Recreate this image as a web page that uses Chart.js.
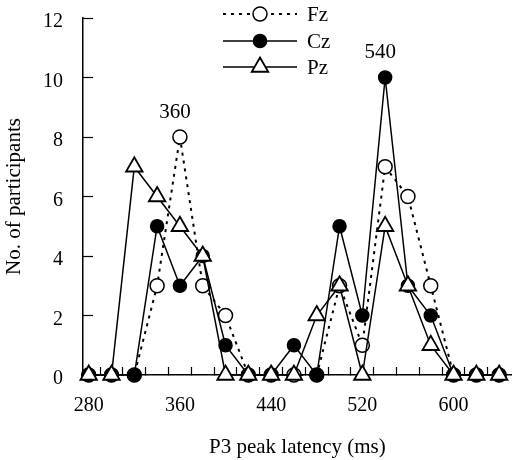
<!DOCTYPE html>
<html>
<head>
<meta charset="utf-8">
<script src="https://cdn.jsdelivr.net/npm/chart.js@4.4.0/dist/chart.umd.min.js"></script>
<style>
  body { margin: 0; background: #fff; }
</style>
</head>
<body>
<canvas id="latencyChart" width="523" height="460"></canvas>
<script>
// P3 peak latency bins (ms) and participant counts per electrode
const latencies = [280, 300, 320, 340, 360, 380, 400, 420, 440, 460, 480, 500, 520, 540, 560, 580, 600, 620, 640];
const fz = [0, 0, 0, 3, 8, 3, 2, 0, 0, 0, 0, 3, 1, 7, 6, 3, 0, 0, 0];
const cz = [0, 0, 0, 5, 3, 4, 1, 0, 0, 1, 0, 5, 2, 10, 3, 2, 0, 0, 0];
const pz = [0, 0, 7, 6, 5, 4, 0, 0, 0, 0, 2, 3, 0, 5, 3, 1, 0, 0, 0];

const xLabels = [280, 360, 440, 520, 600];
const xMarks = [290, 310, 330, 350, 370, 390, 410, 430, 450, 470, 490, 510, 530, 550, 570, 590, 610, 630];
const yTicks = [0, 2, 4, 6, 8, 10, 12];

const peakText = ["360", "540"];
const peakX = [360, 540];
const peakY = [8, 10];

const serif = "'Liberation Serif', 'Times New Roman', serif";
Chart.defaults.font.family = serif;
Chart.defaults.color = "#000";

const toPoints = (vals) => latencies.map((v, i) => ({ x: v, y: vals[i] }));

const peakNotes = {
  id: "peakNotes",
  afterDatasetsDraw(chart) {
    const { ctx, scales: { x, y } } = chart;
    ctx.save();
    ctx.font = "21px " + serif;
    ctx.fillStyle = "#000";
    ctx.textAlign = "center";
    ctx.textBaseline = "middle";
    peakText.forEach((t, i) => {
      ctx.fillText(t, x.getPixelForValue(peakX[i]) - 5, y.getPixelForValue(peakY[i]) - 25);
    });
    ctx.restore();
  }
};

// legend drawn by hand: dashed/solid sample line with marker in the middle
const sampleLegend = {
  id: "sampleLegend",
  afterDraw(chart) {
    const ctx = chart.ctx;
    const rows = [14, 41, 67];
    chart.data.datasets.forEach((ds, i) => {
      const yy = rows[i];
      ctx.save();
      ctx.strokeStyle = "#000";
      ctx.lineWidth = ds.borderWidth;
      ctx.setLineDash(ds.borderDash || []);
      ctx.beginPath();
      ctx.moveTo(223, yy);
      ctx.lineTo(297, yy);
      ctx.stroke();
      ctx.setLineDash([]);
      ctx.lineWidth = ds.pointBorderWidth;
      ctx.fillStyle = ds.pointBackgroundColor;
      ctx.beginPath();
      if (ds.pointStyle === "triangle") {
        const r = ds.pointRadius;
        ctx.moveTo(260, yy - r);
        ctx.lineTo(260 + r * 0.866, yy + r / 2);
        ctx.lineTo(260 - r * 0.866, yy + r / 2);
        ctx.closePath();
      } else {
        ctx.arc(260, yy, ds.pointRadius, 0, Math.PI * 2);
      }
      ctx.fill();
      ctx.stroke();
      ctx.font = "21px " + serif;
      ctx.fillStyle = "#000";
      ctx.textAlign = "left";
      ctx.textBaseline = "middle";
      ctx.fillText(ds.label, 307, yy + 1);
      ctx.restore();
    });
  }
};

const ctx = document.getElementById("latencyChart").getContext("2d");
new Chart(ctx, {
  type: "line",
  data: {
    datasets: [
      {
        label: "Fz",
        data: toPoints(fz),
        borderColor: "#000",
        borderWidth: 2,
        borderDash: [3, 5],
        pointStyle: "circle",
        pointRadius: 7,
        pointBackgroundColor: "#fff",
        pointBorderColor: "#000",
        pointBorderWidth: 1.5,
        clip: false,
        order: 3
      },
      {
        label: "Cz",
        data: toPoints(cz),
        borderColor: "#000",
        borderWidth: 1.5,
        pointStyle: "circle",
        pointRadius: 6.5,
        pointBackgroundColor: "#000",
        pointBorderColor: "#000",
        pointBorderWidth: 1.5,
        clip: false,
        order: 2
      },
      {
        label: "Pz",
        data: toPoints(pz),
        borderColor: "#000",
        borderWidth: 1.5,
        pointStyle: "triangle",
        pointRadius: 9.5,
        pointBackgroundColor: "#fff",
        pointBorderColor: "#000",
        pointBorderWidth: 1.8,
        clip: false,
        order: 1
      }
    ]
  },
  options: {
    responsive: false,
    animation: false,
    devicePixelRatio: 1,
    layout: { padding: { top: 18, right: 2, left: 0, bottom: 0 } },
    plugins: { legend: { display: false }, tooltip: { enabled: false } },
    scales: {
      x: {
        type: "linear",
        min: 275,
        max: 651,
        afterBuildTicks: (s) => {
          s.ticks = xLabels.concat(xMarks).sort((a, b) => a - b).map(v => ({ value: v }));
        },
        afterFit: (s) => {
          s.height = 85;
          s.paddingLeft = 0;
          s.paddingRight = 0;
        },
        ticks: {
          padding: 27,
          font: { size: 20 },
          maxRotation: 0,
          autoSkip: false,
          callback: (v) => xLabels.includes(v) ? String(v) : ""
        },
        grid: {
          drawOnChartArea: false,
          drawTicks: true,
          tickLength: -8,
          tickWidth: 1.2,
          tickColor: (c) => (c.tick && xMarks.includes(c.tick.value)) ? "#000" : "rgba(0,0,0,0)"
        },
        border: { display: true, color: "#000", width: 1.5 },
        title: {
          display: true,
          text: "P3 peak latency (ms)",
          font: { size: 21 },
          padding: { top: 0, bottom: 0 }
        }
      },
      y: {
        min: 0,
        max: 12,
        afterBuildTicks: (s) => { s.ticks = yTicks.map(v => ({ value: v })); },
        afterFit: (s) => {
          s.width = 83;
          s.paddingTop = 0;
          s.paddingBottom = 0;
        },
        ticks: {
          padding: 30,
          labelOffset: 4,
          font: { size: 20 }
        },
        grid: {
          drawOnChartArea: false,
          drawTicks: true,
          tickLength: -10,
          tickWidth: 1.2,
          tickColor: "#000"
        },
        border: { display: true, color: "#000", width: 1.5 },
        title: {
          display: true,
          text: "No. of participants",
          font: { size: 21 },
          padding: { top: 2, bottom: 0 }
        }
      }
    }
  },
  plugins: [peakNotes, sampleLegend]
});
</script>
</body>
</html>
